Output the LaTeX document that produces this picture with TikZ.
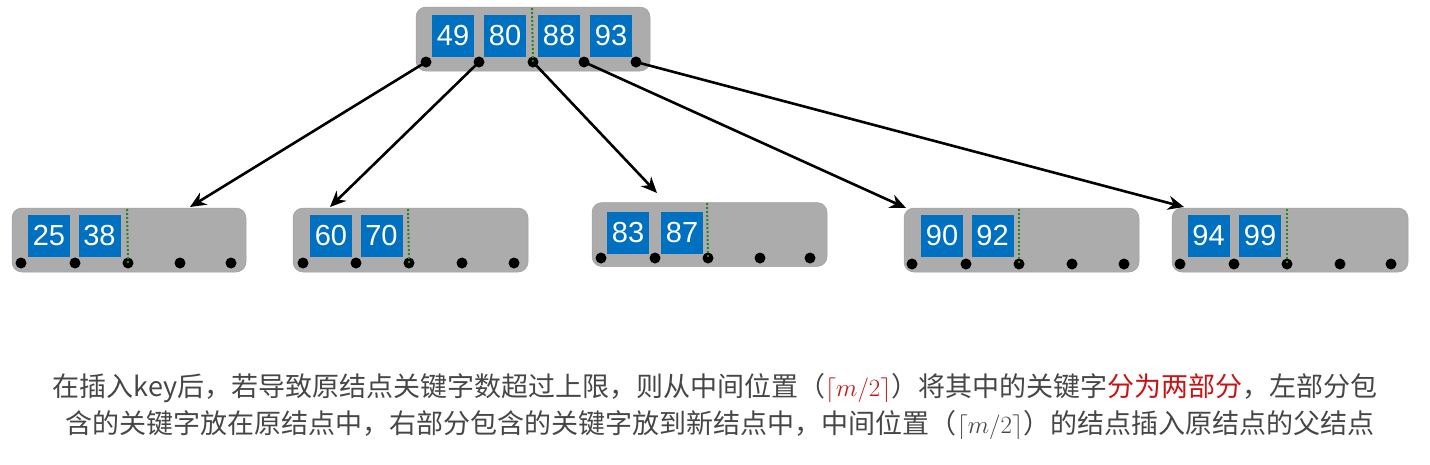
\documentclass[tikz,border=0pt]{standalone}
\usepackage{fontspec}
\setmainfont{Liberation Sans}
\newfontfamily\cjk{Noto Sans CJK SC}
\usetikzlibrary{arrows.meta}
\definecolor{keyblue}{RGB}{0,112,192}
\definecolor{nodegray}{RGB}{172,172,172}
\definecolor{dotgreen}{RGB}{40,130,40}
\definecolor{txtgray}{RGB}{70,70,70}
\definecolor{hired}{RGB}{200,20,20}
\begin{document}
\begin{tikzpicture}[x=1pt,y=-1pt,
  bnodebox/.style={fill=nodegray,draw=nodegray!92!black,line width=0.5pt,rounded corners=10pt},
  keybox/.style={fill=keyblue,minimum width=42pt,minimum height=42pt,inner sep=0pt,
     text=white,font=\fontsize{29}{29}\selectfont},
  ptr/.style={circle,fill=black,minimum size=11pt,inner sep=0pt},
  divider/.style={dotgreen,line width=2pt,dash pattern=on 2pt off 2pt},
  link/.style={line width=2.6pt,-{Stealth[length=16pt,width=14pt]}},
  caption/.style={font=\cjk\fontsize{27}{27}\selectfont,text=txtgray,inner sep=0pt}]
\useasboundingbox (0,0) rectangle (1430,464);

% ---------- root ----------
\node[bnodebox,minimum width=234pt,minimum height=64pt,inner sep=0pt] (root) at (533,39) {};
\node[keybox] (k49) at (453,36) {49};
\node[keybox] (k80) at (505,36) {80};
\node[keybox] (k88) at (559,36) {88};
\node[keybox] (k93) at (611,36) {93};
\coordinate (rdt) at (532,8);
\node[ptr] (r1) at (426,62) {};
\node[ptr] (r2) at (479,62) {};
\node[ptr] (r3) at (533,62) {};
\node[ptr] (r4) at (584,62) {};
\node[ptr] (r5) at (636,62) {};
\draw[divider] (rdt) -- (r3.center);

% ---------- child 1 ----------
\node[bnodebox,minimum width=234pt,minimum height=64pt,inner sep=0pt] (c1) at (129,240) {};
\node[keybox] (k25) at (49,235.5) {25};
\node[keybox] (k38) at (99.5,235.5) {38};
\coordinate (c1dt) at (127,209);
\node[ptr] (c1a) at (21,263) {};
\node[ptr] (c1b) at (75,263) {};
\node[ptr] (c1c) at (128,263) {};
\node[ptr] (c1d) at (180,263) {};
\node[ptr] (c1e) at (231,263) {};
\draw[divider] (c1dt) -- (c1c.center);

% ---------- child 2 ----------
\node[bnodebox,minimum width=235pt,minimum height=64pt,inner sep=0pt] (c2) at (410.5,240) {};
\node[keybox] (k60) at (331,236) {60};
\node[keybox] (k70) at (381.5,236) {70};
\coordinate (c2dt) at (408,209);
\node[ptr] (c2a) at (303,263) {};
\node[ptr] (c2b) at (356,263) {};
\node[ptr] (c2c) at (409,263) {};
\node[ptr] (c2d) at (462,263) {};
\node[ptr] (c2e) at (514,263) {};
\draw[divider] (c2dt) -- (c2c.center);

% ---------- child 3 ----------
\node[bnodebox,minimum width=235pt,minimum height=64pt,inner sep=0pt] (c3) at (709.5,234.5) {};
\node[keybox] (k83) at (628,232.5) {83};
\node[keybox] (k87) at (682,232.5) {87};
\coordinate (c3dt) at (707,203);
\node[ptr] (c3a) at (601,258) {};
\node[ptr] (c3b) at (655,258) {};
\node[ptr] (c3c) at (708,258) {};
\node[ptr] (c3d) at (760,258) {};
\node[ptr] (c3e) at (810,258) {};
\draw[divider] (c3dt) -- (c3c.center);

% ---------- child 4 ----------
\node[bnodebox,minimum width=235pt,minimum height=64pt,inner sep=0pt] (c4) at (1021.5,240) {};
\node[keybox] (k90) at (942,236) {90};
\node[keybox] (k92) at (992.5,236) {92};
\coordinate (c4dt) at (1019,209);
\node[ptr] (c4a) at (912,264) {};
\node[ptr] (c4b) at (966,264) {};
\node[ptr] (c4c) at (1019,264) {};
\node[ptr] (c4d) at (1072,264) {};
\node[ptr] (c4e) at (1124,264) {};
\draw[divider] (c4dt) -- (c4c.center);

% ---------- child 5 ----------
\node[bnodebox,minimum width=236pt,minimum height=64pt,inner sep=0pt] (c5) at (1290,240) {};
\node[keybox] (k94) at (1208.5,236) {94};
\node[keybox] (k99) at (1260,236) {99};
\coordinate (c5dt) at (1287,209);
\node[ptr] (c5a) at (1180,264) {};
\node[ptr] (c5b) at (1234,264) {};
\node[ptr] (c5c) at (1287,264) {};
\node[ptr] (c5d) at (1340,264) {};
\node[ptr] (c5e) at (1391,264) {};
\draw[divider] (c5dt) -- (c5c.center);

% ---------- links ----------
\coordinate (in1) at (190,207);
\coordinate (in2) at (330,207);
\coordinate (in3) at (657,193);
\coordinate (in4) at (906,208);
\coordinate (in5) at (1184,207);
\draw[link] (r1.center) -- (in1);
\draw[link] (r2.center) -- (in2);
\draw[link] (r3.center) -- (in3);
\draw[link] (r4.center) -- (in4);
\draw[link] (r5.center) -- (in5);

% ---------- caption ----------
\node[caption] (cap1) at (715,388) {在插入key后，若导致原结点关键字数超过上限，则从中间位置（{\color{hired}$\lceil m/2\rceil$}）将其中的关键字{\color{hired}分为两部分}，左部分包};
\node[caption] (cap2) at (720,425) {含的关键字放在原结点中，右部分包含的关键字放到新结点中，中间位置（$\lceil m/2\rceil$）的结点插入原结点的父结点};
\end{tikzpicture}
\end{document}
